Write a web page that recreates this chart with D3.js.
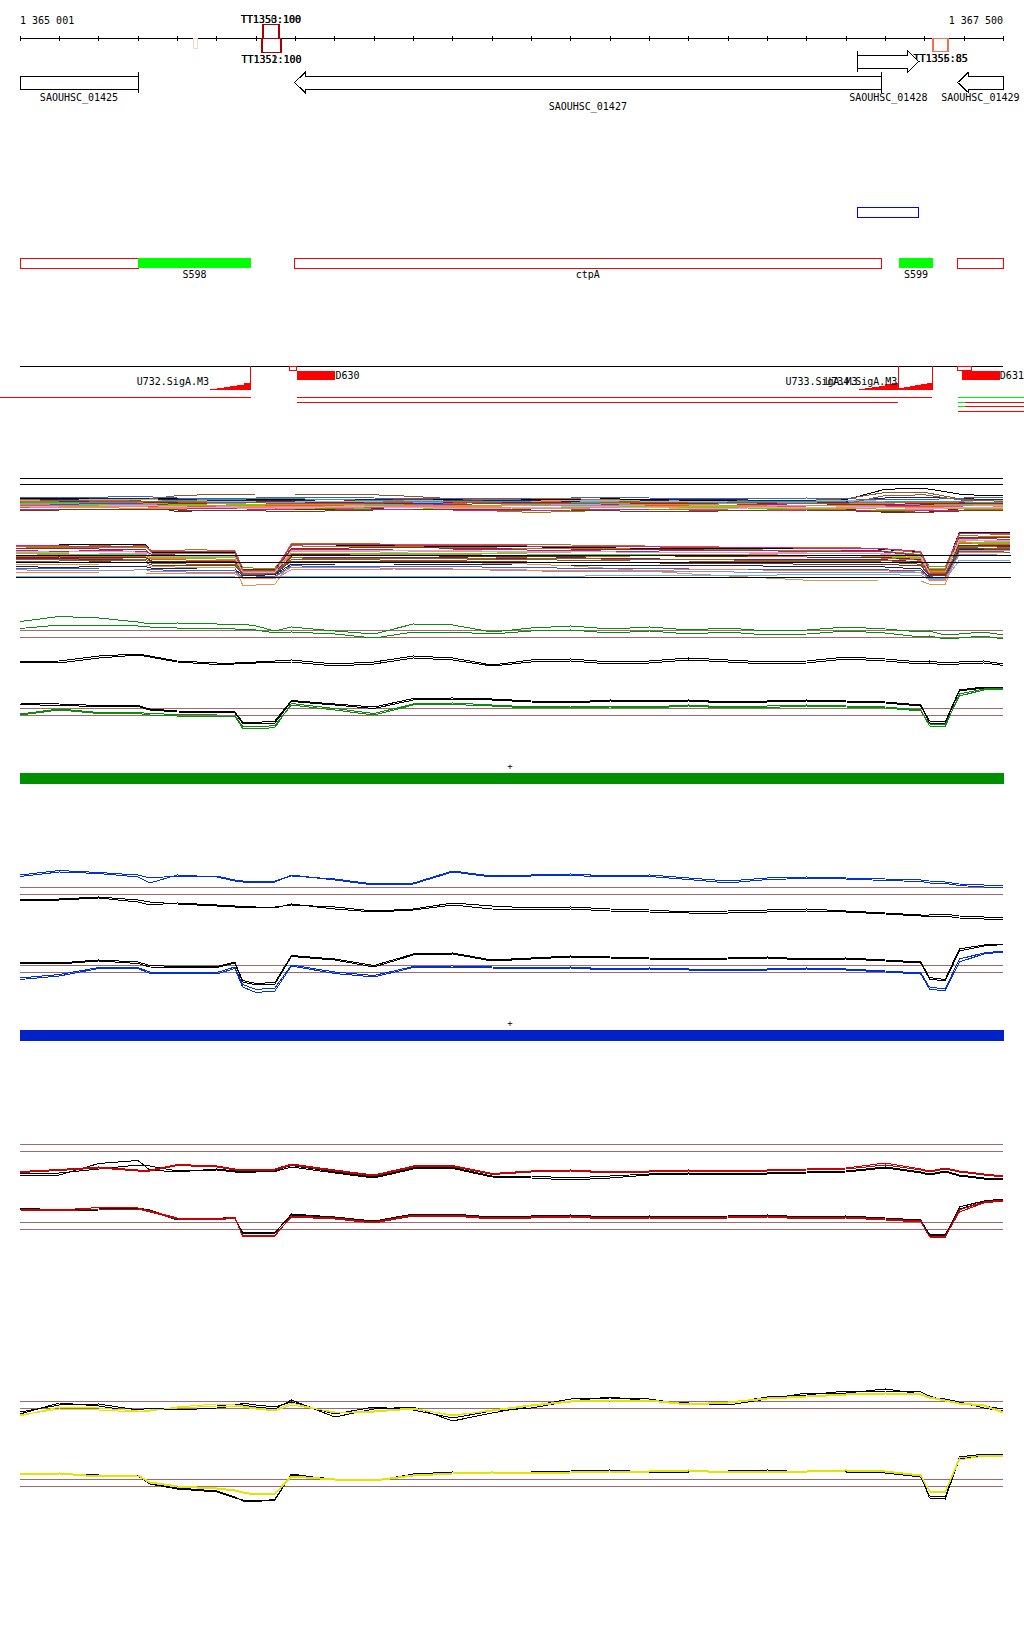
<!DOCTYPE html>
<html>
<head>
<meta charset="utf-8">
<script src="https://cdn.jsdelivr.net/npm/d3@7/dist/d3.min.js"></script>
<style>
  body { margin: 0; background: #fff; }
  svg text { font-family: "DejaVu Sans Mono", monospace; font-size: 10px; fill: #000; }
  .crisp { shape-rendering: crispEdges; }
</style>
</head>
<body>
<svg id="chart" width="1024" height="1640"></svg>
<script>
// ***************************
// **     DATA              **
// ***************************
var viewStart = 1365001, viewEnd = 1367500;

// terminators: name, start, end, strand, score
var terminators = [
    { name: "TT1354", start: 1365441, end: 1365453, strand: "-", score: 20 },
    { name: "TT1350", start: 1365618, end: 1365659, strand: "+", score: 100 },
    { name: "TT1353", start: 1365619, end: 1365660, strand: "+", score: 100 },
    { name: "TT1351", start: 1365616, end: 1365665, strand: "-", score: 100 },
    { name: "TT1352", start: 1365617, end: 1365664, strand: "-", score: 100 },
    { name: "TT1355", start: 1367322, end: 1367360, strand: "-", score: 85 },
    { name: "TT1356", start: 1367323, end: 1367361, strand: "-", score: 85 }
];

// genes
var genes = [
    { name: "SAOUHSC_01425", start: 1364700, end: 1365301, strand: "-" },
    { name: "SAOUHSC_01427", start: 1365699, end: 1367190, strand: "-" },
    { name: "SAOUHSC_01428", start: 1367131, end: 1367286, strand: "+" },
    { name: "SAOUHSC_01429", start: 1367385, end: 1367700, strand: "-" }
];
var geneLabelLine = { "SAOUHSC_01427": 1 };

// annotation features (cds outline / sRNA filled)
var features = [
    { name: "", start: 1364700, end: 1365301, strand: "-", type: "cds" },
    { name: "S598", start: 1365301, end: 1365588, strand: "-", type: "srna" },
    { name: "ctpA", start: 1365699, end: 1367190, strand: "-", type: "cds" },
    { name: "", start: 1367131, end: 1367286, strand: "+", type: "cds" },
    { name: "S599", start: 1367236, end: 1367322, strand: "-", type: "srna" },
    { name: "", start: 1367385, end: 1367700, strand: "-", type: "cds" }
];

// promoters (SigA motif score profile) and TSS/transcripts
var promoters = [
    { name: "U732.SigA.M3", start: 1365484, end: 1365588, steps: [0.03, 0.07, 0.12, 0.15, 0.2, 0.29] },
    { name: "U733.SigA.M3", start: 1367133, end: 1367234, steps: [0.03, 0.06, 0.1, 0.15, 0.22, 0.29] },
    { name: "U734.SigA.M3", start: 1367234, end: 1367320, steps: [0.06, 0.1, 0.14, 0.18, 0.23, 0.29] }
];
var tssMarks = [[1365687, 1365704], [1367385, 1367420]];
var downstream = [
    { name: "D630", start: 1365704, end: 1365803 },
    { name: "D631", start: 1367395, end: 1367492 }
];
// transcript segments: start, end, lane, kind
var segments = [
    { start: 1364950, end: 1365588, lane: 0, kind: "r" },
    { start: 1365704, end: 1367320, lane: 0, kind: "r" },
    { start: 1365704, end: 1367234, lane: 1, kind: "r" },
    { start: 1367386, end: 1367560, lane: 0, kind: "g" },
    { start: 1367386, end: 1367403, lane: 1, kind: "g" },
    { start: 1367403, end: 1367560, lane: 1, kind: "r" },
    { start: 1367386, end: 1367403, lane: 2, kind: "g" },
    { start: 1367403, end: 1367560, lane: 2, kind: "r" },
    { start: 1367386, end: 1367560, lane: 3, kind: "r" }
];

// condition overview (many arrays), offsets from viewStart
var spagColors = ["#000000", "#8b5a2b", "#5a2a20", "#8c8c00", "#c8641e", "#6aaee8", "#a8286e", "#e890b0",
                  "#50e000", "#f05030", "#6a1e6a", "#d49a5c", "#202058", "#8890d0", "#ff7f50", "#a0201a",
                  "#b0b0b0", "#d02090", "#4060c0", "#c0a000", "#7a3a10", "#30a0a0", "#e0a0e0", "#906030"];
var upperSpagPos = [0, 100, 200, 300, 400, 500, 600, 700, 800, 900, 1000, 1100, 1200, 1300, 1400, 1500, 1600, 1700, 1800, 1900, 2000, 2100, 2200, 2300, 2400, 2500];
var upperSpag = [
    [8.8, 8.8, 9.0, 9.0, 8.8, 8.6, 8.6, 8.6, 8.6, 8.6, 8.6, 8.6, 8.4, 8.6, 8.6, 8.8, 8.6, 8.4, 8.4, 8.4, 8.4, 8.6, 11.2, 11.4, 9.8, 9.6],
    [8.2, 8.4, 8.4, 8.4, 9.6, 9.9, 10.0, 10.0, 10.0, 9.8, 9.4, 8.8, 8.6, 8.4, 8.2, 8.2, 8.0, 8.0, 8.2, 8.4, 8.4, 8.8, 10.4, 10.4, 8.6, 8.4],
    [7.8, 7.8, 7.8, 7.6, 5.6, 6.0, 6.0, 6.2, 6.2, 6.4, 6.8, 7.0, 7.0, 7.2, 7.0, 7.0, 6.8, 6.8, 6.6, 6.6, 6.4, 6.2, 5.4, 5.4, 6.4, 6.6],
    [6.6, 6.8, 6.8, 6.8, 6.6, 6.4, 6.2, 6.4, 6.4, 6.6, 6.8, 6.6, 5.8, 5.4, 5.6, 6.0, 6.2, 6.2, 6.0, 6.0, 6.2, 6.0, 5.8, 5.8, 6.0, 6.2],
    [8.2, 8.2, 8.4, 8.2, 8.0, 8.2, 8.2, 8.0, 8.0, 8.0, 8.2, 8.4, 8.6, 8.8, 8.8, 8.6, 8.2, 8.0, 8.0, 8.2, 8.2, 8.0, 7.8, 7.8, 8.0, 8.0],
    [7.8, 7.8, 7.6, 7.8, 7.8, 8.0, 8.0, 8.2, 8.2, 8.0, 8.0, 7.8, 7.8, 7.8, 8.0, 8.2, 8.4, 8.2, 8.2, 8.0, 8.0, 8.2, 8.2, 8.0, 8.2, 8.4],
    [7.4, 7.4, 7.6, 7.6, 7.2, 7.2, 7.4, 7.4, 7.6, 7.6, 7.4, 7.4, 7.6, 7.8, 7.6, 7.4, 7.4, 7.2, 7.2, 7.4, 7.6, 7.4, 7.2, 7.0, 7.4, 7.6],
    [7.2, 7.0, 7.0, 7.2, 7.0, 6.8, 6.8, 7.0, 7.0, 7.2, 7.2, 7.0, 7.0, 7.2, 7.4, 7.2, 7.0, 7.0, 7.2, 7.2, 7.0, 7.0, 6.8, 6.8, 7.0, 7.2],
    [7.6, 7.6, 7.4, 7.2, 7.0, 7.2, 7.4, 7.2, 6.8, 6.2, 6.2, 6.4, 6.4, 6.6, 6.6, 6.8, 6.8, 6.6, 6.6, 6.4, 6.4, 6.6, 6.6, 6.4, 6.6, 6.8],
    [7.0, 7.2, 7.2, 7.0, 6.8, 7.0, 7.0, 7.2, 7.2, 7.4, 7.4, 7.6, 8.0, 8.2, 8.0, 7.6, 7.2, 7.0, 6.8, 6.8, 7.0, 7.2, 7.0, 6.8, 7.0, 7.0],
    [8.0, 8.0, 8.2, 8.0, 7.8, 7.6, 7.8, 8.0, 7.8, 7.8, 7.6, 7.8, 8.0, 7.8, 7.6, 7.6, 7.8, 7.8, 7.6, 7.6, 7.8, 7.8, 7.4, 7.4, 7.8, 8.0],
    [6.8, 6.6, 6.6, 6.4, 6.4, 6.6, 6.6, 6.4, 6.6, 6.8, 6.8, 6.6, 6.6, 6.4, 6.4, 6.6, 6.6, 6.8, 6.8, 6.6, 6.4, 6.4, 6.2, 6.2, 6.4, 6.4],
    [8.6, 8.6, 8.8, 8.8, 8.6, 8.4, 8.4, 8.4, 8.6, 8.6, 8.4, 8.4, 8.4, 8.4, 8.2, 8.4, 8.4, 8.6, 8.6, 8.4, 8.4, 8.2, 9.0, 9.2, 8.8, 8.6],
    [7.4, 7.2, 7.2, 7.4, 7.6, 7.6, 7.8, 7.8, 7.6, 7.4, 7.2, 7.2, 7.0, 7.0, 7.2, 7.2, 7.4, 7.6, 7.6, 7.8, 7.8, 7.6, 7.6, 7.2, 7.4, 7.4],
    [7.0, 7.0, 7.0, 6.8, 6.6, 6.6, 6.8, 6.8, 7.0, 7.0, 7.0, 6.8, 6.8, 6.6, 6.8, 7.0, 7.0, 6.8, 6.8, 6.8, 6.6, 6.6, 6.6, 6.6, 6.6, 6.8],
    [7.8, 8.0, 8.0, 7.8, 7.6, 7.8, 8.0, 8.2, 8.2, 8.4, 8.6, 8.4, 8.2, 8.0, 7.8, 7.8, 7.6, 7.6, 7.8, 7.8, 7.6, 7.4, 7.4, 7.6, 7.6, 7.6],
    [8.4, 8.4, 8.6, 8.6, 8.4, 8.2, 8.0, 8.0, 8.2, 8.2, 8.4, 8.2, 8.0, 8.2, 8.4, 8.4, 8.2, 8.2, 8.0, 8.0, 8.2, 8.4, 8.2, 8.0, 8.2, 8.4],
    [6.2, 6.2, 6.0, 6.0, 6.2, 6.4, 6.2, 6.0, 6.0, 6.2, 6.2, 6.0, 5.8, 5.8, 6.0, 6.2, 6.0, 6.0, 5.8, 5.8, 6.0, 6.0, 5.6, 5.8, 5.8, 6.0],
    [9.2, 9.0, 9.2, 9.4, 9.0, 8.8, 9.0, 9.2, 9.2, 9.0, 8.8, 8.8, 8.8, 9.0, 9.0, 9.2, 9.0, 8.8, 8.8, 8.8, 9.0, 8.8, 8.6, 8.6, 9.0, 9.2],
    [7.6, 7.8, 8.0, 7.8, 7.4, 7.2, 7.2, 7.4, 7.4, 7.2, 7.0, 7.0, 7.2, 7.4, 7.6, 7.6, 7.4, 7.4, 7.2, 7.0, 7.0, 7.2, 7.0, 7.0, 7.2, 7.4],
    [5.8, 6.0, 6.2, 6.2, 6.0, 5.8, 5.8, 5.6, 5.8, 6.0, 6.0, 6.2, 6.2, 6.0, 6.0, 5.8, 5.6, 5.6, 5.8, 6.0, 6.0, 5.8, 5.6, 5.4, 5.8, 5.8],
    [8.0, 7.8, 7.8, 8.0, 8.4, 8.6, 8.8, 8.8, 8.6, 8.4, 8.2, 8.2, 8.2, 8.0, 8.0, 8.0, 7.8, 7.8, 8.0, 8.2, 8.2, 8.0, 8.0, 8.2, 8.0, 7.8],
    [6.8, 7.0, 7.0, 7.2, 6.8, 6.6, 6.4, 6.6, 6.8, 6.8, 6.6, 6.4, 6.4, 6.6, 6.8, 6.8, 6.6, 6.4, 6.4, 6.6, 6.6, 6.8, 6.6, 6.4, 6.6, 6.6],
    [8.6, 8.4, 8.2, 8.2, 8.0, 7.8, 7.8, 7.6, 7.6, 7.8, 8.0, 8.0, 7.8, 7.6, 7.6, 7.8, 7.8, 8.0, 8.0, 7.8, 7.6, 7.6, 9.6, 9.8, 8.4, 8.2]
];
var upperSpagRules = [13.9, 12.4];

var lowerSpagPos = [-10, 100, 200, 320, 335, 450, 546, 566, 600, 648, 690, 800, 950, 1100, 1250, 1400, 1550, 1700, 1850, 2000, 2180, 2290, 2312, 2352, 2388, 2450, 2517];
var lowerSpag = [
    [11.0, 11.0, 11.2, 11.0, 9.2, 9.2, 9.2, 4.8, 4.8, 4.8, 11.2, 11.0, 10.8, 10.6, 10.6, 10.4, 10.2, 10.2, 10.2, 10.0, 10.0, 9.2, 5.0, 5.0, 14.2, 14.2, 14.2],
    [10.6, 10.6, 10.8, 10.6, 9.0, 8.8, 8.8, 4.2, 4.4, 4.4, 11.4, 11.4, 11.2, 11.0, 11.2, 11.0, 10.8, 10.6, 10.4, 10.4, 10.2, 9.0, 4.6, 4.6, 13.8, 13.8, 13.6],
    [6.2, 6.2, 6.0, 6.0, 5.6, 5.4, 5.4, 1.0, 1.0, 1.2, 6.8, 6.8, 6.6, 6.6, 6.4, 5.8, 4.8, 3.8, 3.0, 2.2, 2.0, 2.0, 1.2, 1.2, 9.6, 9.6, 9.6],
    [10.2, 10.4, 10.4, 10.4, 9.6, 9.8, 9.6, 5.4, 5.2, 5.2, 10.8, 10.6, 10.6, 10.4, 10.2, 10.2, 10.0, 9.8, 9.8, 9.6, 9.6, 8.6, 5.6, 5.6, 13.4, 13.2, 13.2],
    [10.0, 10.1, 10.0, 9.8, 8.0, 8.0, 7.8, 4.6, 4.6, 4.6, 10.2, 10.2, 10.4, 10.2, 10.0, 10.0, 9.8, 9.8, 9.6, 9.4, 9.6, 8.2, 4.4, 4.4, 12.8, 12.8, 12.8],
    [3.2, 3.2, 3.2, 3.2, 3.2, 3.2, 3.0, 3.0, 3.0, 3.0, 3.2, 3.2, 3.2, 3.2, 3.2, 3.2, 3.4, 3.4, 3.4, 3.6, 3.6, 3.4, 2.4, 2.4, 7.2, 7.2, 7.2],
    [9.6, 9.4, 9.6, 9.4, 8.6, 8.4, 8.4, 4.0, 4.0, 4.2, 9.8, 9.8, 10.0, 10.0, 9.8, 9.6, 9.4, 9.6, 9.6, 9.4, 9.4, 8.4, 4.2, 4.0, 12.6, 12.6, 12.4],
    [9.2, 9.0, 9.0, 9.0, 8.2, 8.0, 8.0, 3.8, 3.8, 4.0, 9.4, 9.4, 9.2, 9.4, 9.2, 9.0, 9.0, 9.2, 9.0, 8.8, 8.8, 8.0, 3.8, 3.6, 12.2, 12.0, 12.0],
    [8.8, 8.8, 8.6, 8.6, 7.8, 7.8, 7.8, 5.0, 5.0, 5.0, 9.0, 9.0, 8.8, 8.8, 8.8, 8.6, 8.6, 8.4, 8.4, 8.4, 8.4, 7.8, 5.2, 5.2, 11.8, 11.6, 11.6],
    [8.2, 8.0, 8.2, 8.0, 7.4, 7.2, 7.2, 4.4, 4.6, 4.6, 8.4, 8.4, 8.6, 8.4, 8.2, 8.2, 8.0, 8.0, 8.2, 8.0, 7.8, 7.2, 4.0, 4.2, 11.4, 11.2, 11.0],
    [7.6, 7.6, 7.4, 7.4, 6.8, 6.8, 6.8, 4.2, 4.0, 4.2, 8.0, 7.8, 7.8, 7.8, 7.6, 7.8, 7.6, 7.4, 7.4, 7.4, 7.4, 6.8, 3.6, 3.6, 10.8, 10.8, 10.6],
    [7.0, 7.0, 7.2, 7.0, 6.4, 6.2, 6.2, 3.6, 3.6, 3.8, 7.4, 7.4, 7.2, 7.2, 7.4, 7.2, 7.0, 7.0, 6.8, 6.8, 6.8, 6.2, 3.2, 3.4, 10.4, 10.2, 10.2],
    [5.6, 5.4, 5.6, 5.6, 5.2, 5.0, 5.0, 3.4, 3.4, 3.6, 6.2, 6.0, 6.0, 6.2, 6.0, 6.0, 5.8, 5.8, 5.8, 5.6, 5.6, 5.0, 3.0, 3.0, 10.0, 10.0, 9.8],
    [4.8, 4.6, 4.6, 4.8, 4.4, 4.2, 4.2, 2.8, 2.8, 3.0, 5.4, 5.4, 5.2, 5.0, 4.6, 4.4, 4.4, 4.4, 4.2, 4.2, 4.2, 4.0, 2.6, 2.6, 8.6, 8.6, 8.4],
    [4.2, 4.2, 4.0, 4.0, 3.8, 3.8, 3.8, 2.6, 2.6, 2.6, 4.8, 4.8, 5.0, 4.8, 4.8, 4.6, 4.6, 4.8, 4.8, 4.6, 4.6, 4.2, 2.2, 2.2, 9.2, 9.2, 9.0],
    [7.8, 8.0, 7.8, 7.8, 7.0, 7.0, 7.0, 4.8, 4.8, 4.8, 8.6, 8.6, 8.4, 8.2, 8.2, 8.2, 8.4, 8.2, 8.0, 8.0, 8.0, 7.4, 4.8, 4.8, 11.0, 11.0, 11.0],
    [10.8, 10.8, 10.6, 10.8, 9.4, 9.4, 9.4, 4.6, 4.6, 4.6, 11.0, 11.2, 11.0, 10.8, 10.8, 10.6, 10.6, 10.4, 10.4, 10.2, 10.2, 9.4, 4.8, 4.8, 14.0, 13.8, 13.8],
    [8.4, 8.6, 8.4, 8.4, 7.6, 7.6, 7.4, 4.4, 4.4, 4.4, 8.8, 8.8, 8.6, 8.6, 8.4, 8.4, 8.4, 8.6, 8.6, 8.4, 8.2, 7.6, 4.4, 4.4, 11.6, 11.4, 11.4],
    [6.6, 6.6, 6.8, 6.6, 6.0, 6.0, 5.8, 3.8, 3.8, 3.8, 7.0, 7.0, 7.0, 6.8, 6.8, 6.6, 6.6, 6.4, 6.4, 6.2, 6.2, 5.8, 3.4, 3.4, 10.2, 10.0, 10.0],
    [9.4, 9.2, 9.4, 9.2, 8.4, 8.2, 8.2, 4.2, 4.2, 4.2, 9.6, 9.6, 9.6, 9.6, 9.4, 9.4, 9.2, 9.2, 9.2, 9.0, 9.0, 8.2, 4.0, 4.0, 12.4, 12.2, 12.2],
    [5.2, 5.2, 5.0, 5.0, 4.8, 4.6, 4.6, 3.0, 3.0, 3.2, 5.8, 5.6, 5.6, 5.6, 5.4, 5.2, 5.2, 5.0, 5.0, 4.8, 4.8, 4.6, 2.8, 2.8, 9.4, 9.4, 9.2],
    [7.4, 7.4, 7.6, 7.4, 6.6, 6.6, 6.6, 4.0, 4.0, 4.0, 7.8, 7.6, 7.6, 7.6, 7.8, 7.6, 7.4, 7.4, 7.2, 7.2, 7.2, 6.6, 3.8, 3.8, 10.6, 10.6, 10.4]
];
var lowerSpagColorIdx = [0, 4, 11, 3, 15, 5, 6, 7, 8, 9, 10, 1, 12, 13, 14, 2, 17, 19, 20, 22, 18, 23];
var lowerSpagRules = [8.5, 6.75, 3.0];

// per-condition blocks (two replicates per line colour)
var blockPos = [0, 100, 200, 300, 330, 400, 500, 546, 566, 600, 648, 690, 800, 900, 1000, 1100, 1200, 1300, 1400, 1500, 1600, 1700, 1800, 1900, 2000, 2100, 2200, 2290, 2312, 2352, 2388, 2450, 2500];
var upperRules = [7.94, 6.54], lowerRules = [8.34, 6.94];

var greenTop = [
    [9.7, 10.7, 10.4, 9.6, 9.2, 9.4, 9.2, 9.0, 9.2, 8.8, 7.8, 8.6, 7.8, 7.2, 9.2, 9.0, 7.6, 8.4, 8.8, 8.2, 8.6, 8.0, 8.4, 7.8, 8.0, 8.6, 8.2, 7.6, 7.8, 7.0, 7.2, 7.6, 7.0],
    [8.3, 9.0, 9.0, 8.8, 8.6, 8.4, 8.4, 8.2, 8.2, 8.0, 7.4, 7.6, 7.2, 6.4, 7.6, 7.6, 7.2, 7.8, 8.0, 7.4, 7.8, 7.2, 7.6, 7.0, 7.2, 7.8, 7.4, 6.6, 6.8, 6.2, 6.4, 6.8, 6.2]
];
var greenMid = [
    [1.7, 1.8, 2.8, 3.2, 2.8, 1.8, 1.4, 1.4, 1.6, 1.6, 1.8, 2.0, 1.2, 1.6, 2.8, 2.4, 1.0, 2.0, 2.2, 1.6, 1.8, 2.4, 2.0, 1.6, 1.8, 2.6, 2.2, 1.6, 1.8, 1.4, 1.6, 1.8, 1.2],
    [1.5, 1.4, 2.4, 3.0, 2.6, 1.6, 1.1, 1.2, 1.3, 1.4, 1.6, 1.6, 0.8, 1.2, 2.4, 2.0, 0.8, 1.6, 1.8, 1.2, 1.4, 2.0, 1.6, 1.2, 1.4, 2.2, 1.8, 1.2, 1.4, 1.0, 1.2, 1.4, 0.9]
];
var greenLowBlack = [
    [9.1, 8.9, 8.7, 8.7, 8.0, 7.6, 7.5, 7.4, 5.3, 5.2, 5.4, 9.7, 9.0, 8.3, 10.0, 10.1, 10.0, 9.6, 9.4, 9.8, 9.6, 9.8, 9.4, 9.6, 9.8, 9.6, 9.4, 8.8, 5.4, 5.3, 11.8, 12.4, 12.4],
    [9.4, 9.2, 8.9, 8.9, 8.2, 7.8, 7.7, 7.6, 5.6, 5.5, 5.8, 9.9, 9.2, 8.6, 10.3, 10.4, 10.2, 9.8, 9.6, 10.0, 9.8, 10.0, 9.6, 9.8, 10.0, 9.8, 9.6, 9.0, 5.8, 5.6, 12.0, 12.6, 12.5]
];
var greenLowGreen = [
    [7.0, 8.0, 7.3, 7.3, 7.0, 6.8, 6.8, 6.8, 4.3, 4.2, 4.5, 9.3, 8.3, 7.3, 9.2, 9.4, 9.0, 8.6, 8.8, 8.8, 8.6, 9.0, 8.6, 8.8, 9.0, 8.8, 8.6, 8.0, 4.8, 4.6, 11.2, 12.2, 12.3],
    [7.2, 8.2, 7.5, 7.5, 7.3, 7.1, 7.0, 7.0, 4.7, 4.6, 4.9, 9.0, 8.0, 7.0, 9.0, 9.1, 8.8, 8.4, 8.5, 8.6, 8.4, 8.8, 8.4, 8.5, 8.8, 8.6, 8.4, 7.8, 5.2, 5.0, 10.8, 12.0, 12.2]
];

var blueTop = [
    [10.4, 11.3, 10.9, 10.4, 9.8, 10.2, 10.2, 9.4, 9.2, 9.0, 9.2, 10.2, 9.6, 8.6, 8.8, 11.2, 10.2, 10.4, 10.6, 10.2, 10.4, 9.8, 9.2, 9.8, 10.0, 9.8, 9.6, 9.4, 9.2, 9.0, 8.6, 8.4, 8.2],
    [10.1, 11.0, 10.7, 10.0, 8.8, 10.4, 10.0, 9.2, 9.0, 8.8, 9.0, 10.4, 9.4, 8.4, 8.6, 11.0, 10.0, 10.2, 10.3, 10.0, 10.1, 9.5, 8.8, 9.5, 9.7, 9.6, 9.3, 9.1, 8.8, 8.7, 8.3, 8.0, 7.8]
];
var blueMid = [
    [5.4, 5.6, 6.0, 5.4, 5.0, 4.6, 4.2, 4.0, 3.9, 3.8, 4.0, 4.4, 4.0, 3.2, 3.6, 4.8, 4.2, 3.8, 4.0, 3.6, 3.4, 3.0, 3.2, 3.4, 3.6, 3.2, 2.8, 2.4, 2.4, 2.6, 2.2, 2.0, 2.0],
    [5.2, 5.4, 5.8, 5.0, 4.4, 4.8, 4.4, 4.2, 4.1, 4.0, 3.8, 4.6, 3.6, 3.0, 3.4, 4.4, 3.6, 3.4, 3.6, 3.2, 3.0, 2.8, 2.8, 3.0, 3.2, 3.0, 2.6, 2.2, 2.0, 2.2, 1.8, 1.6, 1.6]
];
var blueLowBlack = [
    [8.7, 8.6, 9.2, 8.7, 8.0, 7.9, 7.9, 8.8, 5.0, 4.4, 4.6, 10.1, 9.4, 8.0, 10.4, 10.6, 9.2, 9.6, 10.0, 9.8, 9.6, 9.4, 9.6, 9.8, 9.4, 9.6, 9.2, 8.8, 5.6, 5.2, 11.2, 12.2, 12.5],
    [8.9, 8.8, 9.4, 9.0, 8.3, 8.1, 8.1, 9.0, 5.3, 4.7, 4.9, 10.3, 9.6, 8.3, 10.6, 10.8, 9.4, 9.8, 10.2, 10.0, 9.8, 9.6, 9.8, 10.0, 9.6, 9.8, 9.4, 9.0, 5.9, 5.5, 11.6, 12.4, 12.6]
];
var blueLowBlue = [
    [5.5, 6.2, 7.7, 7.7, 6.7, 6.7, 6.6, 7.7, 4.0, 2.9, 3.2, 8.2, 6.7, 6.0, 7.9, 7.9, 7.8, 7.6, 7.8, 7.4, 7.6, 7.4, 7.2, 7.4, 7.6, 7.4, 7.0, 6.6, 3.6, 3.2, 9.0, 10.6, 11.0],
    [5.8, 6.5, 7.9, 7.9, 7.0, 7.0, 6.9, 8.0, 4.5, 3.5, 3.8, 8.4, 7.0, 6.3, 8.1, 8.2, 8.0, 7.8, 8.0, 7.6, 7.8, 7.6, 7.4, 7.6, 7.8, 7.6, 7.2, 6.8, 4.0, 3.6, 9.6, 10.8, 11.2]
];

var redTopRed = [
    [2.5, 2.9, 3.4, 2.8, 2.8, 3.9, 3.6, 3.0, 3.0, 3.0, 3.0, 4.0, 2.8, 1.8, 3.6, 3.7, 2.1, 2.6, 2.8, 2.4, 2.6, 2.8, 2.6, 2.8, 3.0, 3.2, 4.2, 3.0, 2.6, 3.2, 2.6, 2.0, 1.6],
    [2.3, 2.7, 3.2, 2.6, 2.6, 3.7, 3.4, 2.8, 2.8, 2.8, 2.8, 3.8, 2.6, 1.6, 3.4, 3.5, 1.9, 2.4, 2.6, 2.2, 2.4, 2.6, 2.4, 2.6, 2.8, 3.0, 3.8, 2.8, 2.4, 3.0, 2.4, 1.8, 1.4]
];
var redTopBlack = [
    [1.6, 1.8, 4.1, 4.7, 2.8, 2.4, 3.0, 2.6, 2.6, 2.6, 2.7, 3.7, 2.4, 1.4, 3.2, 3.3, 1.6, 1.6, 1.2, 1.6, 2.0, 2.2, 2.0, 2.2, 2.4, 2.6, 3.4, 2.4, 2.0, 2.6, 1.8, 1.2, 1.0],
    [2.0, 2.2, 3.0, 3.8, 3.6, 2.6, 2.8, 2.4, 2.4, 2.4, 2.5, 3.4, 2.2, 1.2, 3.0, 3.1, 1.4, 1.2, 0.8, 1.2, 1.8, 2.0, 1.8, 2.0, 2.2, 2.4, 3.2, 2.2, 1.8, 2.4, 1.6, 1.0, 0.8]
];
var redLowRed = [
    [11.0, 10.8, 11.3, 11.2, 10.6, 9.2, 9.0, 9.4, 5.5, 5.5, 5.6, 9.6, 9.2, 8.4, 9.8, 9.8, 9.2, 9.4, 9.6, 9.2, 9.4, 9.2, 9.4, 9.6, 9.2, 9.4, 9.0, 8.6, 5.4, 5.3, 10.8, 12.4, 12.8],
    [10.8, 10.6, 11.0, 11.0, 10.4, 9.0, 8.8, 9.2, 5.7, 5.7, 5.8, 9.4, 9.0, 8.2, 9.6, 9.6, 9.0, 9.2, 9.4, 9.0, 9.2, 9.0, 9.2, 9.4, 9.0, 9.2, 8.8, 8.4, 5.6, 5.5, 10.4, 12.2, 12.6]
];
var redLowBlack = [
    [11.2, 10.8, 11.0, 11.2, 10.8, 9.0, 9.1, 9.4, 6.1, 6.1, 6.2, 10.0, 9.4, 8.6, 10.0, 10.0, 9.4, 9.6, 9.8, 9.4, 9.6, 9.4, 9.6, 9.8, 9.4, 9.6, 9.2, 8.8, 5.8, 5.6, 11.4, 12.6, 13.0],
    [11.0, 10.6, 10.8, 11.0, 10.6, 8.8, 8.9, 9.2, 6.3, 6.3, 6.4, 9.8, 9.2, 8.4, 9.8, 9.8, 9.2, 9.4, 9.6, 9.2, 9.4, 9.2, 9.4, 9.6, 9.2, 9.4, 9.0, 8.6, 6.0, 5.8, 11.0, 12.4, 12.8]
];

var yellowTopBlack = [
    [5.4, 7.6, 7.0, 5.8, 6.2, 6.6, 7.0, 7.4, 7.2, 6.8, 6.4, 8.2, 4.8, 6.4, 6.8, 4.0, 5.6, 7.0, 8.4, 8.6, 8.4, 7.2, 7.6, 8.8, 9.2, 10.0, 10.0, 9.8, 9.0, 8.0, 7.4, 7.0, 6.4],
    [5.8, 7.2, 7.4, 6.2, 6.6, 6.2, 6.6, 7.0, 7.6, 7.2, 6.8, 7.8, 5.4, 6.8, 6.2, 4.6, 6.0, 6.6, 8.0, 8.8, 8.0, 7.6, 7.2, 8.4, 9.6, 9.6, 10.4, 9.4, 8.6, 8.4, 7.8, 6.6, 6.0]
];
var yellowTopYellow = [
    [5.0, 6.8, 6.6, 6.0, 6.0, 6.8, 7.4, 7.2, 7.0, 6.6, 6.2, 7.6, 5.6, 6.0, 6.6, 5.0, 6.2, 7.2, 8.0, 8.2, 8.2, 7.4, 7.8, 8.6, 9.0, 9.4, 9.6, 9.4, 8.8, 8.2, 7.6, 7.2, 5.8],
    [5.2, 6.4, 6.2, 5.8, 6.2, 6.6, 7.0, 7.0, 6.8, 6.4, 6.0, 7.2, 5.8, 5.8, 6.4, 5.2, 6.0, 7.0, 7.8, 8.0, 8.0, 7.2, 7.6, 8.4, 8.8, 9.2, 9.4, 9.2, 8.6, 8.0, 7.4, 7.0, 5.6]
];
var yellowLowBlack = [
    [9.6, 9.4, 9.2, 9.0, 7.4, 6.4, 5.8, 4.6, 4.2, 4.0, 4.2, 9.4, 8.2, 8.0, 9.4, 9.8, 9.6, 9.8, 10.0, 10.2, 9.8, 9.8, 10.0, 10.2, 9.8, 10.0, 9.6, 8.8, 5.0, 4.8, 12.8, 13.4, 13.4],
    [9.4, 9.6, 9.0, 9.2, 7.6, 6.6, 6.0, 4.8, 4.0, 3.8, 4.4, 9.2, 8.4, 8.2, 9.2, 9.6, 9.8, 9.6, 9.8, 10.0, 10.0, 10.0, 9.8, 10.0, 10.0, 9.8, 9.8, 9.0, 4.6, 4.4, 12.4, 13.2, 13.2]
];
var yellowLowYellow = [
    [9.4, 9.6, 9.0, 9.2, 7.8, 7.0, 6.6, 6.2, 5.8, 5.4, 5.6, 9.0, 8.4, 8.2, 9.2, 9.6, 9.8, 9.6, 9.8, 10.0, 10.0, 10.2, 9.8, 10.0, 10.0, 10.2, 10.0, 9.2, 6.0, 5.8, 12.6, 13.2, 13.2],
    [9.2, 9.4, 8.8, 9.0, 7.6, 6.8, 6.4, 6.0, 5.6, 5.2, 5.4, 8.8, 8.2, 8.0, 9.0, 9.4, 9.6, 9.4, 9.6, 9.8, 9.8, 10.0, 9.6, 9.8, 9.8, 10.0, 9.8, 9.0, 5.8, 5.6, 12.2, 13.0, 13.0]
];

// ***************************
// **     DRAWING           **
// ***************************
var svg = d3.select("#chart");
var x = d3.scaleLinear().domain([viewStart, viewEnd]).range([20, 1003]);
var xl = 20, xr = 1003;
var fmt = d3.formatLocale({ decimal: ".", thousands: " ", grouping: [3], currency: ["", ""] }).format(",d");
function clampX(v) { return Math.max(xl, Math.min(xr, v)); }

// ---- ruler ----
var ruler = svg.append("g").attr("class", "crisp").attr("transform", "translate(0,38)");
ruler.call(d3.axisBottom(x).tickValues(d3.range(1365000, 1367501, 100)).tickSize(5).tickSizeOuter(0).tickFormat(""));
ruler.selectAll(".tick line").attr("y1", -2.5).attr("y2", 2.5).attr("stroke", "#000");
ruler.select(".domain").attr("stroke", "#000");
svg.append("text").attr("x", 20).attr("y", 24).text(fmt(viewStart));
svg.append("text").attr("x", 1003).attr("y", 24).attr("text-anchor", "end").text(fmt(viewEnd));

// ---- terminators ----
var termColor = d3.scaleLinear().domain([20, 85, 100]).range(["#f8d4cc", "#f07050", "#a80000"]);
var termHeight = d3.scaleLinear().domain([0, 100]).range([9, 14]);
terminators.forEach(function (d, i) {
    var h = termHeight(d.score);
    var y0 = d.strand === "+" ? 38 - h : 38;
    svg.append("rect").attr("class", "crisp")
        .attr("x", x(d.start)).attr("y", y0)
        .attr("width", x(d.end) - x(d.start)).attr("height", h)
        .attr("fill", "none").attr("stroke", termColor(d.score));
    if (d.score >= 50) {
        svg.append("text")
            .attr("x", (x(d.start) + x(d.end)) / 2)
            .attr("y", d.strand === "+" ? y0 - 1 : y0 + h + 11)
            .attr("text-anchor", "middle")
            .text(d.name + ":" + d.score);
    }
});

// ---- genes ----
function genePath(d) {
    var yc = d.strand === "+" ? 61.5 : 82.5, bh = 6.5, hh = 10.5, hl = 11;
    var a = x(d.start), b = x(d.end);
    var p = d3.path();
    if (d.strand === "+") {
        var hb = b - hl, L = clampX(a);
        p.moveTo(L, yc - bh); p.lineTo(hb, yc - bh); p.lineTo(hb, yc - hh); p.lineTo(b, yc);
        p.lineTo(hb, yc + hh); p.lineTo(hb, yc + bh); p.lineTo(L, yc + bh); p.closePath();
        if (a >= xl) { p.moveTo(a, yc - hh); p.lineTo(a, yc + hh); }
    } else {
        var R = clampX(b);
        if (a >= xl) {
            var hb2 = a + hl;
            p.moveTo(R, yc - bh); p.lineTo(hb2, yc - bh); p.lineTo(hb2, yc - hh); p.lineTo(a, yc);
            p.lineTo(hb2, yc + hh); p.lineTo(hb2, yc + bh); p.lineTo(R, yc + bh); p.closePath();
        } else {
            p.rect(xl, yc - bh, R - xl, 2 * bh);
        }
        if (b <= xr) { p.moveTo(b, yc - hh); p.lineTo(b, yc + hh); }
    }
    return p.toString();
}
svg.append("g").selectAll("path").data(genes).enter().append("path")
    .attr("class", "crisp")
    .attr("d", genePath).attr("fill", "#fff").attr("stroke", "#000");
svg.append("g").selectAll("text").data(genes).enter().append("text")
    .attr("x", function (d) { return (clampX(x(d.start)) + clampX(x(d.end))) / 2; })
    .attr("y", function (d) { return 101 + 9 * (geneLabelLine[d.name] || 0); })
    .attr("text-anchor", "middle")
    .text(function (d) { return d.name; });

// ---- annotation features ----
features.forEach(function (d) {
    var a = clampX(x(d.start)), b = clampX(x(d.end));
    var y0 = d.strand === "+" ? 207 : 258;
    svg.append("rect").attr("class", "crisp")
        .attr("x", a).attr("y", y0).attr("width", b - a).attr("height", 10)
        .attr("fill", d.type === "srna" ? "#00ff00" : "none")
        .attr("stroke", d.type === "srna" ? "none" : (d.strand === "+" ? "#0000ff" : "#ff0000"));
    if (d.name) {
        svg.append("text").attr("x", (a + b) / 2).attr("y", 278)
            .attr("text-anchor", "middle").text(d.name);
    }
});

// ---- promoters / TSS ----
svg.append("line").attr("class", "crisp")
    .attr("x1", xl).attr("x2", xr).attr("y1", 366).attr("y2", 366).attr("stroke", "#000");
var promY = d3.scaleLinear().domain([0, 1]).range([389.5, 366]);
promoters.forEach(function (d) {
    var n = d.steps.length;
    var sx = d3.scaleLinear().domain([0, n]).range([x(d.start), x(d.end)]);
    var pts = d.steps.map(function (v, i) { return [i, v]; }).concat([[n, d.steps[n - 1]]]);
    svg.append("path").attr("class", "crisp")
        .attr("d", d3.area().curve(d3.curveStepAfter)
            .x(function (p) { return sx(p[0]); }).y0(promY(0)).y1(function (p) { return promY(p[1]); })(pts))
        .attr("fill", "#ff0000");
    svg.append("line").attr("class", "crisp")
        .attr("x1", x(d.end)).attr("x2", x(d.end)).attr("y1", promY(1)).attr("y2", promY(0))
        .attr("stroke", "#ff0000");
    svg.append("text").attr("x", x(d.start) - 1).attr("y", 385).attr("text-anchor", "end").text(d.name);
});
tssMarks.forEach(function (d) {
    svg.append("rect").attr("class", "crisp")
        .attr("x", x(d[0])).attr("y", 366).attr("width", x(d[1]) - x(d[0])).attr("height", 4)
        .attr("fill", "none").attr("stroke", "#ff0000");
});
downstream.forEach(function (d) {
    svg.append("rect").attr("class", "crisp")
        .attr("x", x(d.start)).attr("y", 371).attr("width", x(d.end) - x(d.start)).attr("height", 9)
        .attr("fill", "#ff0000");
    svg.append("text").attr("x", x(d.end)).attr("y", 379).text(d.name);
});
segments.forEach(function (d) {
    var y = Math.round(397 + d.lane * 4.7) + 0.5;
    svg.append("line").attr("class", "crisp")
        .attr("x1", x(d.start)).attr("x2", x(d.end)).attr("y1", y).attr("y2", y)
        .attr("stroke", d.kind === "g" ? "#00ee00" : "#ff0000");
});

// ---- helpers for profile panels ----
function drawRule(y, x1, x2, color) {
    svg.append("line").attr("class", "crisp")
        .attr("x1", x1).attr("x2", x2).attr("y1", y).attr("y2", y).attr("stroke", color);
}
function drawSeries(pos, vals, yScale, color) {
    var line = d3.line()
        .x(function (d, i) { return x(viewStart + pos[i]); })
        .y(function (d) { return yScale(d); });
    svg.append("path").attr("class", "crisp")
        .attr("d", line(vals)).attr("fill", "none").attr("stroke", color).attr("stroke-width", 1);
}

// ---- overview spaghetti ----
var yUp = d3.scaleLinear().domain([4, 16]).range([518, 470]);
upperSpagRules.forEach(function (v) { drawRule(Math.round(yUp(v)) + 0.5, xl, xr, "#000"); });
upperSpag.forEach(function (vals, i) { drawSeries(upperSpagPos, vals, yUp, spagColors[i % spagColors.length]); });

var yLo = d3.scaleLinear().domain([0, 16]).range([589, 525]);
lowerSpag.forEach(function (vals, i) {
    drawSeries(lowerSpagPos, vals, yLo, spagColors[lowerSpagColorIdx[i]]);
});
lowerSpagRules.forEach(function (v) { drawRule(Math.round(yLo(v)) + 0.5, 16, 1011, "#000"); });

// ---- condition blocks ----
var ruleColor = "#a06a6a";
var blocks = [
    { base: 600, color: "#0c8c0c", bar: "#008f00", top: [greenTop, "c", greenMid, "k"], low: [greenLowBlack, "k", greenLowGreen, "c"] },
    { base: 857, color: "#0030d8", bar: "#0022c8", top: [blueTop, "c", blueMid, "k"], low: [blueLowBlack, "k", blueLowBlue, "c"] },
    { base: 1114, color: "#cc0000", bar: null, top: [redTopBlack, "k", redTopRed, "c"], low: [redLowBlack, "k", redLowRed, "c"] },
    { base: 1371, color: "#e4e400", bar: null, top: [yellowTopBlack, "k", yellowTopYellow, "c"], low: [yellowLowBlack, "k", yellowLowYellow, "c"] }
];
blocks.forEach(function (b) {
    var yT = d3.scaleLinear().domain([0, 14]).range([b.base + 70, b.base]);
    var yB = d3.scaleLinear().domain([0, 14]).range([b.base + 150, b.base + 80]);
    upperRules.forEach(function (v) { drawRule(Math.round(yT(v)) + 0.5, xl, xr, ruleColor); });
    lowerRules.forEach(function (v) { drawRule(Math.round(yB(v)) + 0.5, xl, xr, ruleColor); });
    [[b.top, yT], [b.low, yB]].forEach(function (pair) {
        var groups = pair[0], ys = pair[1];
        for (var g = 0; g < groups.length; g += 2) {
            var col = groups[g + 1] === "k" ? "#000" : b.color;
            groups[g].forEach(function (vals) { drawSeries(blockPos, vals, ys, col); });
        }
    });
    if (b.bar) {
        svg.append("text").attr("x", 510).attr("y", b.base + 169).attr("text-anchor", "middle")
            .style("font-size", "9px").text("+");
        svg.append("rect").attr("class", "crisp")
            .attr("x", xl).attr("y", b.base + 173).attr("width", xr - xl + 1).attr("height", 11)
            .attr("fill", b.bar);
    }
});
</script>
</body>
</html>
